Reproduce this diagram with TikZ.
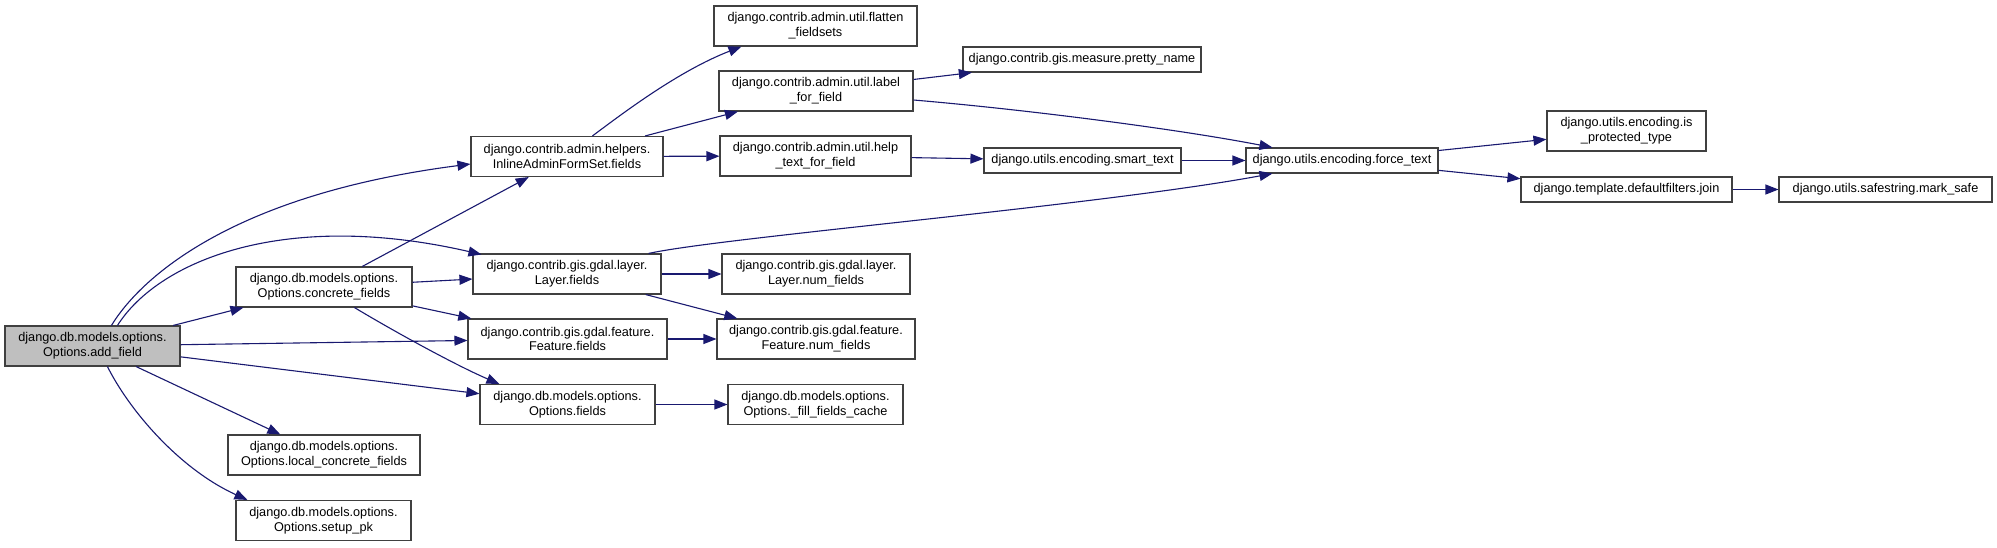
\documentclass[tikz,border=0pt]{standalone}
\usepackage{fontspec}
\setmainfont{Liberation Sans}
\usetikzlibrary{arrows.meta}
\definecolor{edgec}{HTML}{191970}
\definecolor{boxc}{HTML}{404040}
\definecolor{greyc}{HTML}{BFBFBF}
\tikzset{
  box/.style={draw=boxc, line width=1.1pt, fill=white, inner sep=0pt, align=center,
    font=\fontsize{12.7}{14.7}\selectfont},
  cur/.style={fill=greyc},
  edge/.style={draw=edgec, line width=1.1pt, -{Triangle[length=13pt,width=10pt]}},
}
\begin{document}
\begin{tikzpicture}[x=1pt,y=-1pt]
\fill[white] (0,0) rectangle (1997,547);
\useasboundingbox (0,0) rectangle (1997,547);

\node[box,cur,minimum width=175pt,minimum height=40pt] (add) at (92.5,346) {django.db.models.options.\\Options.add\_field};
\node[box,minimum width=176pt,minimum height=40pt] (concrete) at (324,287) {django.db.models.options.\\Options.concrete\_fields};
\node[box,minimum width=192pt,minimum height=40pt] (local) at (324,455) {django.db.models.options.\\Options.local\_concrete\_fields};
\node[box,minimum width=175pt,minimum height=40pt] (setup) at (323.5,520.5) {django.db.models.options.\\Options.setup\_pk};
\node[box,minimum width=192pt,minimum height=40pt] (inline) at (567,156.5) {django.contrib.admin.helpers.\\InlineAdminFormSet.fields};
\node[box,minimum width=188pt,minimum height=40pt] (layer) at (567,274) {django.contrib.gis.gdal.layer.\\Layer.fields};
\node[box,minimum width=199pt,minimum height=40pt] (feature) at (567.5,339) {django.contrib.gis.gdal.feature.\\Feature.fields};
\node[box,minimum width=175pt,minimum height=40pt] (ofields) at (567.5,404.5) {django.db.models.options.\\Options.fields};
\node[box,minimum width=203pt,minimum height=40pt] (flatten) at (815.5,26) {django.contrib.admin.util.flatten\\\_fieldsets};
\node[box,minimum width=194pt,minimum height=40pt] (labelf) at (816,91) {django.contrib.admin.util.label\\\_for\_field};
\node[box,minimum width=191pt,minimum height=40pt] (helpt) at (815.5,156) {django.contrib.admin.util.help\\\_text\_for\_field};
\node[box,minimum width=188pt,minimum height=40pt] (lnum) at (816,274) {django.contrib.gis.gdal.layer.\\Layer.num\_fields};
\node[box,minimum width=198pt,minimum height=40pt] (fnum) at (816,339) {django.contrib.gis.gdal.feature.\\Feature.num\_fields};
\node[box,minimum width=175pt,minimum height=40pt] (fillc) at (815.5,404.5) {django.db.models.options.\\Options.\_fill\_fields\_cache};
\node[box,minimum width=238pt,minimum height=25pt] (pretty) at (1082,59.5) {django.contrib.gis.measure.pretty\_name};
\node[box,minimum width=197pt,minimum height=25pt] (smart) at (1082.5,160.5) {django.utils.encoding.smart\_text};
\node[box,minimum width=192pt,minimum height=25pt] (force) at (1342,160.5) {django.utils.encoding.force\_text};
\node[box,minimum width=159pt,minimum height=40pt] (isprot) at (1626.5,131) {django.utils.encoding.is\\\_protected\_type};
\node[box,minimum width=211pt,minimum height=25pt] (join) at (1626.5,189.5) {django.template.defaultfilters.join};
\node[box,minimum width=213pt,minimum height=25pt] (marksafe) at (1885.5,189.5) {django.utils.safestring.mark\_safe};

% curved edges
\draw[edge] ([xshift=107pt]add.north west) .. controls +(28,-46) and +(-241,31) .. ([yshift=-7.5pt]inline.west);
\draw[edge] ([xshift=113pt]add.north west) .. controls +(42,-66) and +(-195,-45) .. ([xshift=9pt,yshift=-1pt]layer.north west);
\draw[edge] ([xshift=103pt]add.south west) .. controls +(22,44) and +(-68,-31) .. ([xshift=12pt]setup.north west);
\draw[edge] ([xshift=119pt]concrete.south west) .. controls +(45,27) and +(-40,-17) .. ([xshift=20pt]ofields.north west);
\draw[edge] ([xshift=122pt]inline.north west) .. controls +(32,-24) and +(-62,24) .. ([xshift=28pt]flatten.south west);
\draw[edge] ([xshift=-13pt]layer.north east) .. controls +(72,-16) and +(-173,32) .. ([xshift=27pt]force.south west);
\draw[edge] ([yshift=-9pt]labelf.east) .. controls +(117,10) and +(-93,-18) .. ([xshift=27pt]force.north west);

% straight edges
\draw[edge] (add) -- (concrete);
\draw[edge] (add) -- (feature);
\draw[edge] (add) -- (ofields);
\draw[edge] (add) -- (local);
\draw[edge] (concrete) -- (inline);
\draw[edge] (concrete) -- (layer);
\draw[edge] (concrete) -- (feature);
\draw[edge] (inline) -- (labelf);
\draw[edge] (inline) -- (helpt);
\draw[edge] (labelf) -- (pretty);
\draw[edge] (helpt) -- (smart);
\draw[edge] (smart) -- (force);
\draw[edge] (layer) -- (lnum);
\draw[edge] (layer) -- (fnum);
\draw[edge] (feature) -- (fnum);
\draw[edge] (ofields) -- (fillc);
\draw[edge] (force) -- (isprot);
\draw[edge] (force) -- (join);
\draw[edge] (join) -- (marksafe);
\end{tikzpicture}
\end{document}
